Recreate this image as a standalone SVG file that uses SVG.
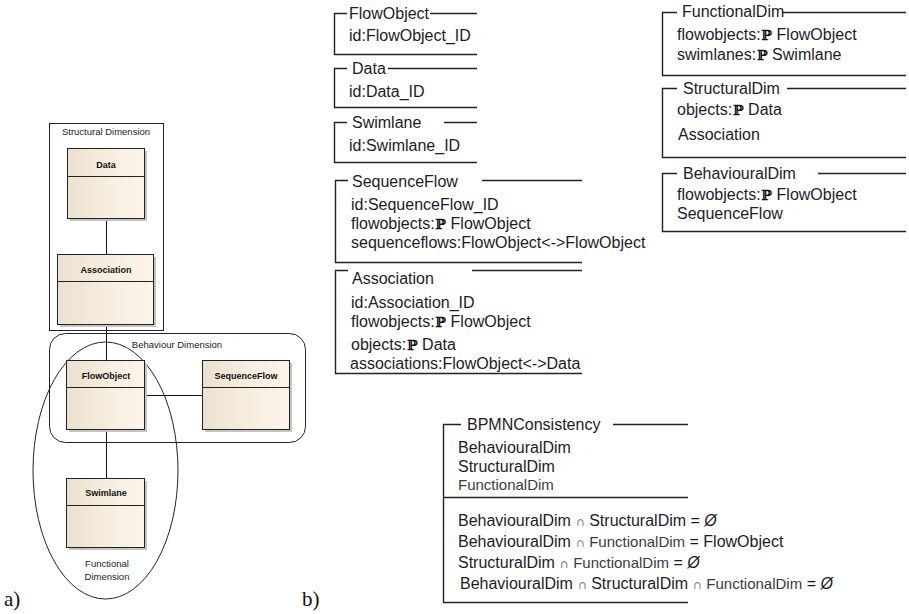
<svg xmlns="http://www.w3.org/2000/svg" width="909" height="614" viewBox="0 0 909 614">
<defs>
<linearGradient id="boxfill" x1="0" y1="0" x2="1" y2="0">
<stop offset="0" stop-color="#ece1cf"/>
<stop offset="0.5" stop-color="#f6eddf"/>
<stop offset="1" stop-color="#fbf4e8"/>
</linearGradient>
<style>
.frame{fill:none;stroke:#222;stroke-width:1}
.shadow{fill:#c4c4c4}
.box{fill:url(#boxfill);stroke:#222;stroke-width:1}
.hdr{stroke:#222;stroke-width:1}
.btitle{font-family:"Liberation Sans",Arial,sans-serif;font-size:9px;font-weight:bold;fill:#111;text-anchor:middle}
.glabel{font-family:"Liberation Sans",Arial,sans-serif;font-size:9.5px;fill:#222;text-anchor:middle}
.conn{fill:none;stroke:#111;stroke-width:1}
.zl{fill:none;stroke:#222;stroke-width:1.4}
.zt{font-family:"Liberation Sans",Arial,sans-serif;font-size:16px;fill:#1c1c28}
.zs{font-family:"Liberation Sans",Arial,sans-serif;font-size:15px;fill:#3a3a44}
.ni{font-family:"Liberation Sans",Arial,sans-serif;font-size:13px;fill:#3a3a44}
.ps{font-family:"DejaVu Serif","Liberation Serif",serif;font-size:14px;font-weight:bold;fill:#111}
.cap{font-family:"Liberation Serif","Times New Roman",serif;font-size:21px;fill:#111}
</style>
</defs>

<!-- Part a) -->
<g id="structural-dimension">
<rect class="frame" x="49.5" y="123.5" width="114" height="207"/>
<text class="glabel" x="106" y="135">Structural Dimension</text>
</g>
<g id="behaviour-dimension">
<rect class="frame" x="49.5" y="333.5" width="256" height="109" rx="16" ry="16"/>
<text class="glabel" x="177" y="348">Behaviour Dimension</text>
</g>
<g id="functional-dimension">
<ellipse class="frame" cx="105.5" cy="470.5" rx="72.5" ry="128.5"/>
<text class="glabel" x="107" y="567">Functional</text>
<text class="glabel" x="107" y="580">Dimension</text>
</g>

<g id="connectors">
<line class="conn" x1="106.5" y1="218" x2="106.5" y2="254"/>
<line class="conn" x1="106.5" y1="324" x2="106.5" y2="360"/>
<line class="conn" x1="106.5" y1="429" x2="106.5" y2="478"/>
<line class="conn" x1="144" y1="395.5" x2="202" y2="395.5"/>
</g>

<g id="node-data">
<rect class="shadow" x="70" y="151" width="77" height="70"/>
<rect class="box" x="67.5" y="148.5" width="77" height="70"/>
<line class="hdr" x1="67.5" y1="176.5" x2="144.5" y2="176.5"/>
<text class="btitle" x="106" y="168">Data</text>
</g>
<g id="node-association">
<rect class="shadow" x="60" y="257" width="96" height="70"/>
<rect class="box" x="57.5" y="254.5" width="96" height="70"/>
<line class="hdr" x1="57.5" y1="281.5" x2="153.5" y2="281.5"/>
<text class="btitle" x="106" y="273">Association</text>
</g>
<g id="node-flowobject">
<rect class="shadow" x="69" y="363" width="78" height="69"/>
<rect class="box" x="66.5" y="360.5" width="78" height="69"/>
<line class="hdr" x1="66.5" y1="387.5" x2="144.5" y2="387.5"/>
<text class="btitle" x="106" y="379">FlowObject</text>
</g>
<g id="node-sequenceflow">
<rect class="shadow" x="205" y="363" width="87" height="69"/>
<rect class="box" x="202.5" y="360.5" width="87" height="69"/>
<line class="hdr" x1="202.5" y1="387.5" x2="289.5" y2="387.5"/>
<text class="btitle" x="246" y="379">SequenceFlow</text>
</g>
<g id="node-swimlane">
<rect class="shadow" x="69" y="481" width="78" height="69"/>
<rect class="box" x="66.5" y="478.5" width="78" height="69"/>
<line class="hdr" x1="66.5" y1="505.5" x2="144.5" y2="505.5"/>
<text class="btitle" x="106" y="496">Swimlane</text>
</g>

<text class="cap" x="4" y="606">a)</text>
<text class="cap" x="302" y="606">b)</text>

<!-- Part b) Z schemas -->
<g id="z-flowobject">
<path class="zl" d="M347,13.5 H334.5 V54.5 H477 M430,13.5 H477"/>
<text class="zt" x="349" y="19">FlowObject</text>
<text class="zt" x="349" y="41">id:FlowObject_ID</text>
</g>
<g id="z-data">
<path class="zl" d="M347,68.5 H334.5 V107.5 H477 M388,68.5 H477"/>
<text class="zt" x="352" y="74">Data</text>
<text class="zt" x="349" y="97">id:Data_ID</text>
</g>
<g id="z-swimlane">
<path class="zl" d="M347,122.5 H334.5 V162.5 H477 M444,122.5 H477"/>
<text class="zt" x="352" y="128">Swimlane</text>
<text class="zt" x="349" y="151">id:Swimlane_ID</text>
</g>
<g id="z-sequenceflow">
<path class="zl" d="M348,180.5 H335.5 V262.5 H582 M482,180.5 H582"/>
<text class="zt" x="352" y="187">SequenceFlow</text>
<text class="zt" x="351" y="210">id:SequenceFlow_ID</text>
<text class="zt" x="351" y="229">flowobjects:<tspan class="ps" dx="1">ℙ</tspan> FlowObject</text>
<text class="zt" x="351" y="248">sequenceflows:FlowObject&lt;-&gt;FlowObject</text>
</g>
<g id="z-association">
<path class="zl" d="M348,270.5 H335.5 V373.5 H582 M472,270.5 H582"/>
<text class="zt" x="352" y="284">Association</text>
<text class="zt" x="351" y="308">id:Association_ID</text>
<text class="zt" x="351" y="327">flowobjects:<tspan class="ps" dx="1">ℙ</tspan> FlowObject</text>
<text class="zt" x="351" y="350">objects:<tspan class="ps" dx="1">ℙ</tspan> Data</text>
<text class="zt" x="350" y="369">associations:FlowObject&lt;-&gt;Data</text>
</g>
<g id="z-functionaldim">
<path class="zl" d="M677,12.5 H662.5 V75.5 H906 M782,12.5 H906"/>
<text class="zt" x="682" y="17">FunctionalDim</text>
<text class="zt" x="677" y="40">flowobjects:<tspan class="ps" dx="1">ℙ</tspan> FlowObject</text>
<text class="zt" x="677" y="60">swimlanes:<tspan class="ps" dx="1">ℙ</tspan> Swimlane</text>
</g>
<g id="z-structuraldim">
<path class="zl" d="M677,88.5 H662.5 V157.5 H906 M787,88.5 H906"/>
<text class="zt" x="683" y="94">StructuralDim</text>
<text class="zt" x="677" y="115">objects:<tspan class="ps" dx="1">ℙ</tspan> Data</text>
<text class="zt" x="678" y="140">Association</text>
</g>
<g id="z-behaviouraldim">
<path class="zl" d="M677,173.5 H662.5 V231.5 H906 M818,173.5 H906"/>
<text class="zt" x="683" y="179">BehaviouralDim</text>
<text class="zt" x="677" y="200">flowobjects:<tspan class="ps" dx="1">ℙ</tspan> FlowObject</text>
<text class="zt" x="677" y="219">SequenceFlow</text>
</g>
<g id="z-bpmnconsistency">
<path class="zl" d="M461,424.5 H443.5 V602.5 H688 M613,424.5 H688 M443.5,497.5 H688"/>
<text class="zt" x="467" y="430">BPMNConsistency</text>
<text class="zt" x="458" y="453">BehaviouralDim</text>
<text class="zt" x="458" y="472">StructuralDim</text>
<text class="zs" x="458" y="490">FunctionalDim</text>
<text class="zt" x="458" y="526">BehaviouralDim <tspan class="ni">∩</tspan> StructuralDim  = <tspan font-style="italic">Ø</tspan></text>
<text class="zt" x="458" y="547">BehaviouralDim <tspan class="ni">∩</tspan> <tspan class="zs">FunctionalDim</tspan>  = FlowObject</text>
<text class="zt" x="458" y="568">StructuralDim <tspan class="ni">∩</tspan> <tspan class="zs">FunctionalDim</tspan> = <tspan font-style="italic">Ø</tspan></text>
<text class="zt" x="460" y="589">BehaviouralDim <tspan class="ni">∩</tspan> StructuralDim <tspan class="ni">∩</tspan> <tspan class="zs">FunctionalDim</tspan> = <tspan font-style="italic">Ø</tspan></text>
</g>
</svg>
